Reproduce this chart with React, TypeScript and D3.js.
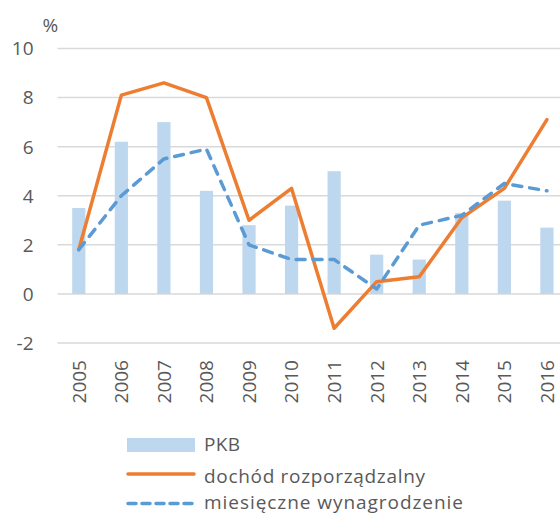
import React from "react";
import * as d3 from "d3";

const years = ["2005","2006","2007","2008","2009","2010","2011","2012","2013","2014","2015","2016"];
const pkb = [3.5, 6.2, 7.0, 4.2, 2.8, 3.6, 5.0, 1.6, 1.4, 3.3, 3.8, 2.7];
const dochod = [1.8, 8.1, 8.6, 8.0, 3.0, 4.3, -1.4, 0.5, 0.7, 3.1, 4.3, 7.1];
const wynagrodzenie = [1.8, 4.0, 5.5, 5.9, 2.0, 1.4, 1.4, 0.2, 2.8, 3.2, 4.5, 4.2];
const yTicks = [-2, 0, 2, 4, 6, 8, 10];
const legendLabels = ["PKB", "dochód rozporządzalny", "miesięczne wynagrodzenie"];

const W = 560, H = 514;
const FONT = "'Open Sans', sans-serif";
const TXT = "#595959";
const FS = 19;

export default function App() {
  const x = d3.scaleBand<string>().domain(years).range([57.5, 568.2]).paddingInner(0.69).paddingOuter(0.345);
  const step = x.step();
  const cx = (d: string) => (x(d) as number) + x.bandwidth() / 2;
  const y = d3.scaleLinear().domain([-2, 10]).range([343, 48.5]);
  const line = d3.line<number>().x((_, i) => cx(years[i])).y(v => y(v));
  const left = (x(years[0]) as number) - step * 0.345;
  const right = left + step * years.length;

  return (
    <svg width={W} height={H} style={{ position: "absolute", left: 0, top: 0, background: "#fff" }} fontFamily={FONT}>
      {yTicks.map(t => (
        <g key={t}>
          <line x1={left} x2={right} y1={y(t)} y2={y(t)} stroke="#D9D9D9" strokeWidth={1.5} />
          <text x={33.5} y={y(t)} dy="0.36em" textAnchor="end" fontSize={FS} fill={TXT}>{t}</text>
        </g>
      ))}
      <text x={42.5} y={32} fontSize={FS} fill={TXT}>%</text>
      {years.map((yr, i) => (
        <rect key={yr} x={x(yr)} width={x.bandwidth()} y={y(Math.max(0, pkb[i]))} height={Math.abs(y(pkb[i]) - y(0))} fill="#BDD7EE" />
      ))}
      <path d={line(dochod) || ""} fill="none" stroke="#ED7D31" strokeWidth={3.5} strokeLinejoin="round" strokeLinecap="round" />
      <path d={line(wynagrodzenie) || ""} fill="none" stroke="#5B9BD5" strokeWidth={3.5} strokeDasharray="9 8" strokeLinejoin="round" strokeLinecap="round" />
      {years.map(yr => (
        <text key={yr} transform={`translate(${cx(yr)},360) rotate(-90)`} dy="0.36em" textAnchor="end" fontSize={FS} fill={TXT}>{yr}</text>
      ))}
      <g>
        <rect x={127} y={438} width={68} height={14} fill="#BDD7EE" />
        <text x={204} y={450.7} fontSize={FS} fill={TXT} textLength={36} lengthAdjust="spacing">{legendLabels[0]}</text>
        <line x1={128} x2={194} y1={474} y2={474} stroke="#ED7D31" strokeWidth={3.5} strokeLinecap="round" />
        <text x={204} y={482.5} fontSize={FS} fill={TXT} textLength={221} lengthAdjust="spacing">{legendLabels[1]}</text>
        <line x1={128} x2={194} y1={503.5} y2={503.5} stroke="#5B9BD5" strokeWidth={3.5} strokeDasharray="8 6" strokeLinecap="round" />
        <text x={204} y={508.5} fontSize={FS} fill={TXT} textLength={259} lengthAdjust="spacing">{legendLabels[2]}</text>
      </g>
    </svg>
  );
}
